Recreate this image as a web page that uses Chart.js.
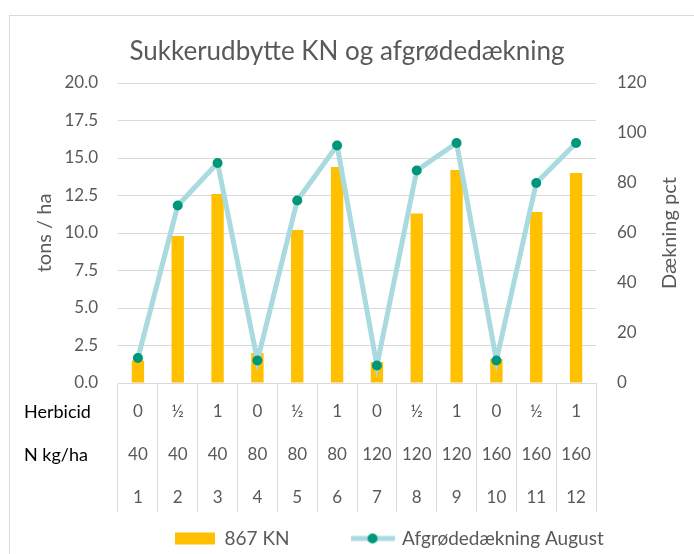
<!DOCTYPE html>
<html><head><meta charset="utf-8">
<script src="https://cdn.jsdelivr.net/npm/chart.js@4"></script>
<style>html,body{margin:0;padding:0;background:#fff}#wrap{width:694px;height:554px}</style>
</head><body><div id="wrap"><canvas id="c" width="694" height="554"></canvas></div>
<script>
// ---- data ----
const herbicid = ['0','½','1','0','½','1','0','½','1','0','½','1'];
const nKgHa = ['40','40','40','80','80','80','120','120','120','160','160','160'];
const parcel = ['1','2','3','4','5','6','7','8','9','10','11','12'];
const rowTitles = ['Herbicid', 'N kg/ha', ''];
const yield867KN = [1.5, 9.8, 12.6, 2.0, 10.2, 14.4, 1.4, 11.3, 14.2, 1.6, 11.4, 14.0];
const coverAugust = [10, 71, 88, 9, 73, 95, 7, 85, 96, 9, 80, 96];
const seriesNames = ['867 KN', 'Afgrødedækning August'];
const chartTitle = 'Sukkerudbytte KN og afgrødedækning';
const leftAxisTitle = 'tons / ha';
const rightAxisTitle = 'Dækning pct';

// ---- style ----
const FONT = 'Lato';
const TXT = '#595959';
const GRID = '#d9d9d9';
const BAR = '#FFC000';
const LINE = '#A8DAE0';
const PT = '#00967A';
const TICK_LEN = 128.7, TICK_PAD = -121.5, LINE_H = 43, TICK_SIZE = 17;
const PAD_BOTTOM = -56;

const labels = parcel.map((p, i) => [herbicid[i], nKgHa[i], p]);

const icon = document.createElement('canvas');
icon.width = 44; icon.height = 12;
(function(){ const g = icon.getContext('2d'); g.strokeStyle = LINE; g.lineWidth = 5;
  g.beginPath(); g.moveTo(0,6); g.lineTo(44,6); g.stroke();
  g.fillStyle = PT; g.beginPath(); g.arc(22,6,5,0,Math.PI*2); g.fill(); })();

const decor = {
  id: 'decor',
  beforeDraw(chart){
    const ctx = chart.ctx; ctx.save();
    ctx.fillStyle = '#fff'; ctx.fillRect(0,0,chart.width,chart.height);
    ctx.strokeStyle = GRID; ctx.lineWidth = 1;
    ctx.strokeRect(9.5, 15.5, chart.width + 40, chart.height + 40);
    ctx.restore();
  },
  afterLayout(chart){
    const lg = chart.legend; const pad = lg.options.labels.padding;
    const fs = lg.options.labels.font.size;
    const start = (lg.left + pad + lg.right - lg.lineWidths[0]) / 2;
    const dx = 175 - start;
    const cy = lg.top + pad + Math.max(fs, 12) / 2;
    const dy = 538.5 - cy;
    lg.left += dx; lg.right += dx; lg.top += dy; lg.bottom += dy;
  },
  afterDraw(chart){
    const ctx = chart.ctx; const xs = chart.scales.x; const ca = chart.chartArea;
    ctx.save();
    ctx.fillStyle = '#000'; ctx.font = '18px ' + FONT;
    ctx.textAlign = 'left'; ctx.textBaseline = 'middle';
    rowTitles.forEach((t, i) => {
      ctx.fillText(t, 24, xs.top + TICK_LEN + TICK_PAD + LINE_H * (i + 0.5));
    });
    ctx.fillStyle = TXT; ctx.font = '20px ' + FONT; ctx.textAlign = 'center';
    ctx.translate(670, (ca.top + ca.bottom) / 2); ctx.rotate(-Math.PI / 2);
    ctx.fillText(rightAxisTitle, 0, 0);
    ctx.restore();
  }
};

function build(){
  new Chart(document.getElementById('c'), {
    data: {
      labels: labels,
      datasets: [
        { type: 'bar', label: seriesNames[0], data: yield867KN, yAxisID: 'y', backgroundColor: BAR,
          barPercentage: 0.31, categoryPercentage: 1, order: 1 },
        { type: 'line', label: seriesNames[1], data: coverAugust, yAxisID: 'y1', borderColor: LINE,
          borderWidth: 5, pointRadius: 5, pointBackgroundColor: PT, pointBorderColor: PT, pointBorderWidth: 0,
          tension: 0, order: 0 }
      ]
    },
    options: {
      responsive: false, animation: false, devicePixelRatio: 1,
      layout: { padding: { top: 0, left: 0, right: 0, bottom: PAD_BOTTOM } },
      plugins: {
        tooltip: { enabled: false },
        title: { display: true, text: chartTitle, color: TXT, font: { family: FONT, size: 26, weight: 'normal', lineHeight: 1.2 },
          padding: { top: 36.5, bottom: 15.3 } },
        legend: { position: 'bottom',
          labels: { color: TXT, font: { family: FONT, size: 19 }, usePointStyle: true, pointStyleWidth: 40, boxHeight: 12,
            padding: 63,
            sort: (a, b) => a.datasetIndex - b.datasetIndex,
            generateLabels(chart){
              const items = Chart.defaults.plugins.legend.labels.generateLabels(chart);
              items.forEach(it => { it.pointStyle = it.datasetIndex === 1 ? icon : 'rect'; it.lineWidth = 0; it.strokeStyle = 'rgba(0,0,0,0)'; it.fillStyle = BAR; });
              return items;
            } } }
      },
      scales: {
        x: { type: 'category', offset: true,
          grid: { offset: true, drawOnChartArea: false, drawTicks: true, tickLength: TICK_LEN, color: GRID },
          border: { display: true, color: GRID },
          ticks: { autoSkip: false, maxRotation: 0, minRotation: 0, color: TXT, padding: TICK_PAD,
            font: { family: FONT, size: TICK_SIZE, lineHeight: LINE_H / TICK_SIZE } },
          afterFit(s){ s.height = s.chart.height - PAD_BOTTOM - s.chart.legend.height - 383; } },
        y: { position: 'left', min: 0, max: 20,
          grid: { color: GRID, drawTicks: false }, border: { display: false },
          ticks: { stepSize: 2.5, padding: 20, color: TXT, font: { family: FONT, size: TICK_SIZE }, callback: v => v.toFixed(1) },
          title: { display: true, text: leftAxisTitle, color: TXT, font: { family: FONT, size: 20 }, padding: { top: 33, bottom: 0 } },
          afterFit(s){ s.width = 118; } },
        y1: { position: 'right', min: 0, max: 120,
          grid: { display: false, drawTicks: false }, border: { display: false },
          ticks: { stepSize: 20, padding: 21, color: TXT, font: { family: FONT, size: TICK_SIZE } },
          afterFit(s){ s.width = 98; } }
      }
    },
    plugins: [decor]
  });
}
if (document.fonts && document.fonts.load) {
  Promise.all([document.fonts.load('20px Lato')]).then(build, build);
} else build();
</script></body></html>
